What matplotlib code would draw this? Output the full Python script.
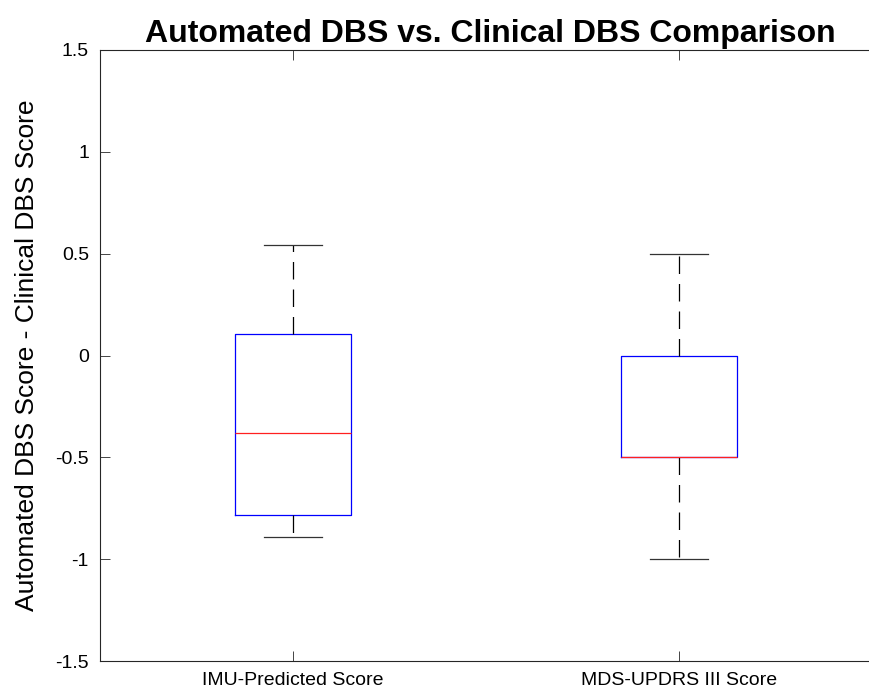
import matplotlib
matplotlib.use("Agg")
import matplotlib.pyplot as plt

# box statistics per group
groups = ["IMU-Predicted Score", "MDS-UPDRS III Score"]
whislo = [-0.892, -1.0]
q1 = [-0.783, -0.5]
med = [-0.382, -0.5]
q3 = [0.107, 0.0]
whishi = [0.544, 0.5]
yticks = [-1.5, -1, -0.5, 0, 0.5, 1, 1.5]

plt.rcParams['font.family'] = ['Liberation Sans', 'DejaVu Sans']
plt.rcParams['axes.unicode_minus'] = False

fig = plt.figure(figsize=(8.69, 6.96), dpi=100)
ax = fig.add_axes([100/869, 35/696, 780/869, 611/696])

stats = []
for i, g in enumerate(groups):
    stats.append(dict(label=g, whislo=whislo[i], q1=q1[i], med=med[i],
                      q3=q3[i], whishi=whishi[i], fliers=[]))

ax.bxp(stats, positions=[1, 2], widths=0.3, showfliers=False,
       boxprops=dict(color='#0000ff', lw=0.9),
       medianprops=dict(color='#ff2020', lw=0.9),
       whiskerprops=dict(color='black', lw=0.9, linestyle=(0, (14, 8))),
       capprops=dict(color='#333333', lw=0.9), capwidths=0.15)

ax.set_xlim(0.5, 2.52)
ax.set_ylim(-1.5, 1.5)
ax.set_yticks(yticks)
ax.set_yticklabels([f"{t:g}" for t in yticks])
ax.set_xticks([1, 2])
ax.set_xticklabels(groups)
ax.tick_params(direction='in', length=7, width=0.6, labelsize=14, colors='#262626',
               top=True, right=True, pad=8)
ax.tick_params(axis='x', labelcolor='black')
ax.tick_params(axis='y', labelcolor='black')
for s in ax.spines.values():
    s.set_linewidth(0.8)
    s.set_color('#262626')
ax.spines['right'].set_visible(False)

ax.set_ylabel("Automated DBS Score - Clinical DBS Score", fontsize=19, labelpad=12)
ax.set_title("Automated DBS vs. Clinical DBS Comparison", fontsize=23,
             fontweight='bold', pad=6)

fig.savefig("out.png", dpi=100)
